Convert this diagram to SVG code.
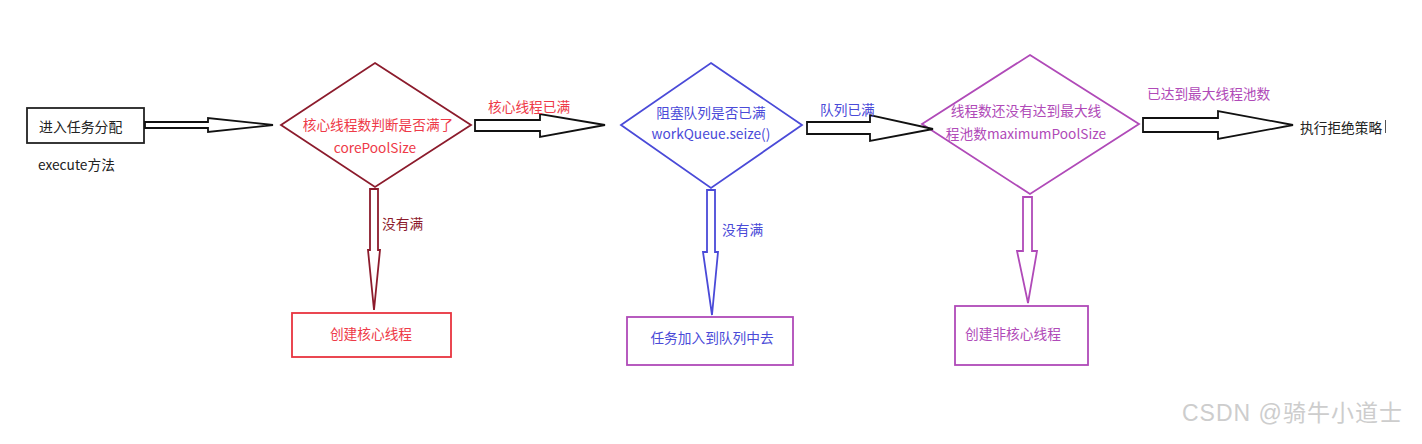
<svg xmlns="http://www.w3.org/2000/svg" width="1422" height="444" viewBox="0 0 1422 444">
<style>
text{font-family:"Noto Sans CJK SC","Noto Sans",sans-serif;font-size:13.7px;dominant-baseline:central}
.c{text-anchor:middle}
.arr{fill:#fff;stroke:#111;stroke-width:1.8;stroke-linejoin:miter}
.red{fill:#ee3a48}.dred{fill:#8c1b2c}.blue{fill:#4a4ad8}.pur{fill:#b04ab8}.blk{fill:#222}
</style>
<rect width="1422" height="444" fill="#fff"/>
<g id="start">
<rect x="27" y="108" width="117" height="35" fill="#fff" stroke="#222" stroke-width="1.8"/>
<text x="39" y="125.5" class="blk" style="font-size:13.9px">进入任务分配</text>
<text x="38" y="164" class="blk">execute方法</text>
</g>
<g id="decision-core">
<polygon points="375,63 471,125 375,187 281,125" fill="#fff" stroke="#8c1b2c" stroke-width="1.8"/>
<text x="378" y="124" class="c red">核心线程数判断是否满了</text>
<text x="375" y="147" class="c red">corePoolSize</text>
</g>
<g id="decision-queue">
<polygon points="711,63 802,125 711,188 621,125" fill="#fff" stroke="#4a4ad8" stroke-width="1.8"/>
<text x="711" y="112" class="c blue">阻塞队列是否已满</text>
<text x="711" y="133" class="c blue">workQueue.seize()</text>
</g>
<g id="decision-max">
<polygon points="1030,55 1139,124 1030,194 922,124" fill="#fff" stroke="#b04ab8" stroke-width="1.8"/>
<text x="1026" y="110" class="c pur">线程数还没有达到最大线</text>
<text x="1026" y="133" class="c pur">程池数maximumPoolSize</text>
</g>
<g id="create-core">
<rect x="292" y="313" width="159" height="44" fill="#fff" stroke="#e8333f" stroke-width="1.8"/>
<text x="371" y="333" class="c red">创建核心线程</text>
</g>
<g id="enqueue">
<rect x="627" y="317" width="166" height="48" fill="#fff" stroke="#b04ab8" stroke-width="1.8"/>
<text x="712" y="337" class="c blue">任务加入到队列中去</text>
</g>
<g id="create-noncore">
<rect x="955" y="306" width="133" height="59" fill="#fff" stroke="#b04ab8" stroke-width="1.8"/>
<text x="965" y="333" class="pur">创建非核心线程</text>
</g>
<g id="reject">
<text x="1300" y="127" class="blk">执行拒绝策略</text>
<line x1="1385.5" y1="120" x2="1385.5" y2="133" stroke="#555" stroke-width="1"/>
</g>
<g id="connectors">
<polygon class="arr" points="145,122 208,122 208,118 273,125 208,132 208,128 145,128"/>
<polygon class="arr" points="475,120 540,120 540,114 605,125 540,137 540,131 475,131"/>
<polygon class="arr" points="807,122 870,122 870,115 933,129 870,141 870,134 807,134"/>
<polygon class="arr" points="1143,118 1218,118 1218,111 1293,125 1218,139 1218,132 1143,132"/>
<polygon points="370,189 378,189 378,250 380,250 374,310 368,250 370,250" fill="#fff" stroke="#8c1b2c" stroke-width="1.8"/>
<polygon points="707,190 715,190 715,252 718,252 712,315 703,252 707,252" fill="#fff" stroke="#4a4ad8" stroke-width="1.8"/>
<polygon points="1023,197 1032,197 1032,251 1037,251 1028,303 1017,251 1023,251" fill="#fff" stroke="#b04ab8" stroke-width="1.8"/>
<text x="488" y="106" class="red">核心线程已满</text>
<text x="820" y="109" class="blue">队列已满</text>
<text x="1147" y="93" class="pur">已达到最大线程池数</text>
<text x="382" y="223" class="dred">没有满</text>
<text x="722" y="229" class="blue">没有满</text>
</g>
<text x="1182" y="413" style="font-family:'Liberation Sans','Noto Sans CJK SC',sans-serif;font-size:23px;letter-spacing:1px;fill:#cdcdcd">CSDN @骑牛小道士</text>
</svg>
